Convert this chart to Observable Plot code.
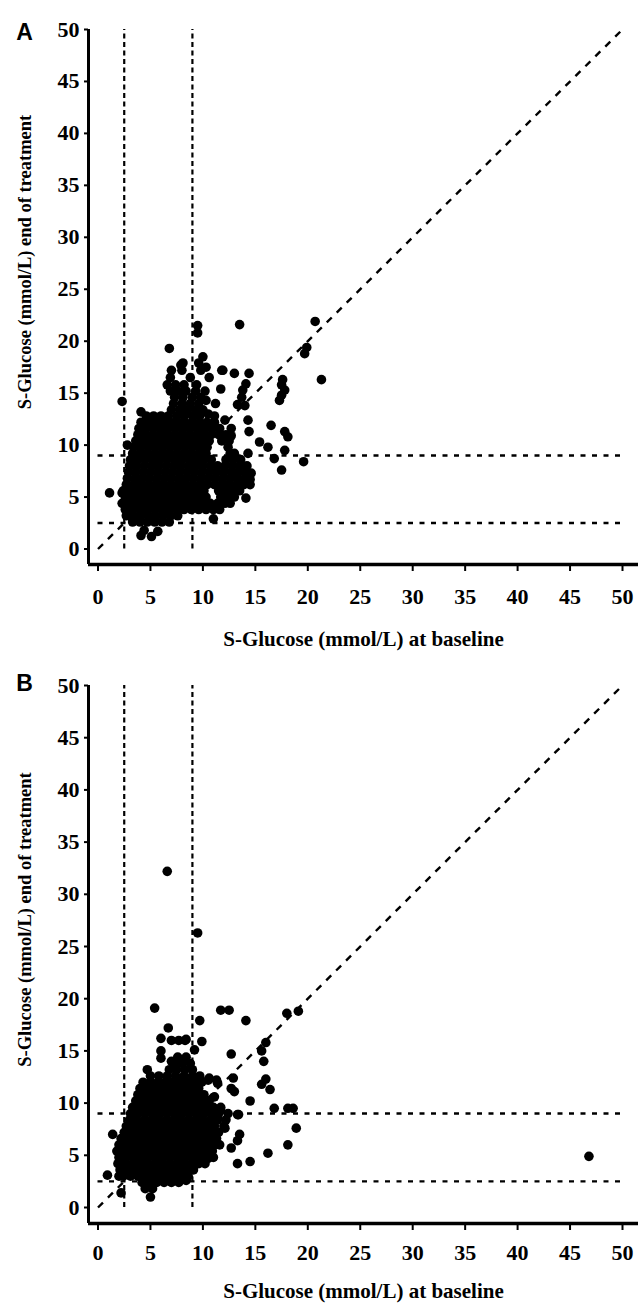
<!DOCTYPE html>
<html>
<head>
<meta charset="utf-8">
<script src="https://cdn.jsdelivr.net/npm/d3@7"></script>
<script src="https://cdn.jsdelivr.net/npm/@observablehq/plot@0.6"></script>
<style>
  body { margin: 0; background: #fff; }
  svg { display: block; }
</style>
</head>
<body>
<div id="chart"></div>
<script>
// ---- tick values and labels ----
const tickValues = [0, 5, 10, 15, 20, 25, 30, 35, 40, 45, 50];
const axisDomain = [0, 50];
const xTitle = "S-Glucose (mmol/L) at baseline";
const yTitle = "S-Glucose (mmol/L) end of treatment";
const panelLetters = ["A", "B"];

// ---- reference limits (dashed lines) ----
const lowLimit = 2.5;
const highLimit = 9;
const refLimits = [lowLimit, highLimit];

// ---- Panel A: [baseline, end of treatment] (mmol/L) ----
const panelA = [
  // isolated points
  [1.1,5.4],[2.3,5.4],[2.3,14.2],[2.8,10.0],[4.1,13.2],[6.8,19.3],[9.5,20.8],[9.5,21.5],[13.5,21.6],[20.7,21.9],
  [19.9,19.4],[19.7,18.8],[21.3,16.3],[11.9,17.2],[13.0,16.9],[14.4,16.9],[14.1,15.9],[13.8,15.3],[11.7,15.4],[17.5,15.8],
  [17.6,16.3],[17.8,15.3],[17.3,14.3],[17.5,14.8],[13.7,14.6],[13.3,13.9],[14.0,13.8],[12.1,12.4],[12.7,11.6],[14.3,12.4],
  [14.4,11.3],[16.5,11.9],[17.8,11.3],[18.1,10.8],[15.4,10.3],[16.2,9.8],[17.8,9.5],[16.8,8.7],[17.5,7.6],[19.6,8.4],
  [14.1,4.9],[11.0,2.9],[14.6,7.3],[14.5,6.7],[13.0,9.2],[14.3,9.2],[12.4,9.8],[12.7,10.9],[4.1,1.3],[5.1,1.2],
  [4.4,1.8],[5.7,1.7],[3.3,2.9],[2.8,3.7],[10.0,18.5],[10.3,17.5],[7.9,17.7],[11.8,17.2],[10.3,14.3],[10.5,13.0],
  // dense cluster
  [3.3,2.6],[4.0,2.6],[4.7,2.6],[5.4,2.6],[6.1,2.6],[6.8,2.6],
  [2.7,3.2],[3.4,3.2],[4.1,3.2],[4.8,3.2],[5.5,3.2],[6.2,3.2],[6.9,3.2],[7.6,3.2],
  [2.6,3.8],[3.3,3.8],[4.0,3.8],[4.7,3.8],[5.4,3.8],[6.1,3.8],[6.8,3.8],[7.5,3.8],[8.2,3.8],[8.9,3.8],[9.6,3.8],[10.3,3.8],[11.0,3.8],[11.6,3.8],
  [2.3,4.4],[3.0,4.4],[3.7,4.4],[4.4,4.4],[5.1,4.4],[5.8,4.4],[6.5,4.4],[7.2,4.4],[7.9,4.4],[8.6,4.4],[9.3,4.4],[10.0,4.4],[10.7,4.4],[11.4,4.4],[12.1,4.4],[12.6,4.4],
  [2.6,5.0],[3.3,5.0],[4.0,5.0],[4.7,5.0],[5.4,5.0],[6.1,5.0],[6.8,5.0],[7.5,5.0],[8.2,5.0],[8.9,5.0],[9.6,5.0],[10.3,5.0],[11.7,5.0],[12.4,5.0],[13.0,5.0],
  [2.4,5.6],[3.1,5.6],[3.8,5.6],[4.5,5.6],[5.2,5.6],[5.9,5.6],[6.6,5.6],[7.3,5.6],[8.0,5.6],[8.7,5.6],[9.4,5.6],[10.1,5.6],[11.5,5.6],[12.2,5.6],[12.9,5.6],[13.5,5.6],
  [2.7,6.2],[3.4,6.2],[4.1,6.2],[4.8,6.2],[5.5,6.2],[6.2,6.2],[6.9,6.2],[7.6,6.2],[8.3,6.2],[9.0,6.2],[9.7,6.2],[10.4,6.2],[11.1,6.2],[11.8,6.2],[12.5,6.2],[13.2,6.2],[13.9,6.2],[14.5,6.2],
  [2.8,6.8],[3.5,6.8],[4.2,6.8],[4.9,6.8],[5.6,6.8],[6.3,6.8],[7.0,6.8],[7.7,6.8],[8.4,6.8],[9.1,6.8],[9.8,6.8],[10.5,6.8],[11.2,6.8],[11.9,6.8],[12.6,6.8],[13.3,6.8],[14.0,6.8],
  [2.9,7.4],[3.6,7.4],[4.3,7.4],[5.0,7.4],[5.7,7.4],[6.4,7.4],[7.1,7.4],[7.8,7.4],[8.5,7.4],[9.2,7.4],[9.9,7.4],[10.6,7.4],[11.3,7.4],[12.0,7.4],[12.7,7.4],[13.4,7.4],[14.1,7.4],
  [3.0,8.0],[3.7,8.0],[4.4,8.0],[5.1,8.0],[5.8,8.0],[6.5,8.0],[7.2,8.0],[7.9,8.0],[8.6,8.0],[9.3,8.0],[10.0,8.0],[10.7,8.0],[11.4,8.0],[12.1,8.0],[12.8,8.0],[13.5,8.0],[14.2,8.0],
  [3.1,8.6],[3.8,8.6],[4.5,8.6],[5.2,8.6],[5.9,8.6],[6.6,8.6],[7.3,8.6],[8.0,8.6],[8.7,8.6],[9.4,8.6],[10.1,8.6],[10.8,8.6],[12.2,8.6],[12.9,8.6],[13.6,8.6],
  [3.3,9.2],[4.0,9.2],[4.7,9.2],[5.4,9.2],[6.1,9.2],[6.8,9.2],[7.5,9.2],[8.2,9.2],[8.9,9.2],[9.6,9.2],[10.3,9.2],[12.6,9.2],
  [3.4,9.8],[4.1,9.8],[4.8,9.8],[5.5,9.8],[6.2,9.8],[6.9,9.8],[7.6,9.8],[8.3,9.8],[9.0,9.8],[9.7,9.8],[10.4,9.8],
  [3.6,10.4],[4.3,10.4],[5.0,10.4],[5.7,10.4],[6.4,10.4],[7.1,10.4],[7.8,10.4],[8.5,10.4],[9.2,10.4],[9.9,10.4],[10.6,10.4],[11.8,10.4],[12.5,10.4],
  [3.8,11.0],[4.5,11.0],[5.2,11.0],[5.9,11.0],[6.6,11.0],[7.3,11.0],[8.0,11.0],[8.7,11.0],[9.4,11.0],[10.1,11.0],[10.8,11.0],[11.5,11.0],[12.2,11.0],
  [3.9,11.6],[4.6,11.6],[5.3,11.6],[6.0,11.6],[6.7,11.6],[7.4,11.6],[8.1,11.6],[8.8,11.6],[9.5,11.6],[10.2,11.6],[10.9,11.6],[11.6,11.6],
  [4.1,12.2],[4.8,12.2],[5.5,12.2],[6.2,12.2],[6.9,12.2],[7.6,12.2],[8.3,12.2],[9.0,12.2],[9.7,12.2],[10.4,12.2],[11.1,12.2],
  [4.6,12.8],[5.3,12.8],[6.0,12.8],[6.7,12.8],[7.5,12.8],[8.2,12.8],[9.0,12.8],[9.7,12.8],[11.1,12.8],
  [7.0,13.4],[7.8,13.4],[8.5,13.4],[9.3,13.4],[10.0,13.4],
  [7.2,14.0],[8.0,14.0],[8.8,14.0],[9.6,14.0],[11.2,14.0],
  [7.3,14.6],[8.1,14.6],[9.0,14.6],[9.8,14.6],
  [6.9,15.2],[7.6,15.2],[8.4,15.2],[9.3,15.2],[10.2,15.2],
  [6.6,15.8],[7.4,15.8],[8.2,15.8],[9.4,15.8],
  [6.9,16.5],[8.8,16.5],[10.6,16.5],
  [7.0,17.2],[8.0,17.2],[9.8,17.2],
  [8.1,17.9],[9.6,17.9]
];

// ---- Panel B: [baseline, end of treatment] (mmol/L) ----
const panelB = [
  // isolated points
  [5.4,19.1],[6.6,32.2],[9.5,26.3],[46.8,4.9],[6.7,17.2],[9.7,17.9],[7.0,16.0],[7.7,16.0],[8.3,16.0],[6.0,16.2],
  [6.0,15.0],[6.0,14.3],[7.0,14.0],[8.4,16.1],[9.9,15.9],[9.2,15.1],[4.7,13.2],[1.4,7.0],[0.9,3.1],[2.0,3.0],
  [2.2,1.4],[5.0,1.0],[8.2,2.8],[7.1,2.6],[9.2,4.1],[10.5,4.7],[11.7,18.9],[12.5,18.9],[14.1,17.9],[18.0,18.6],
  [19.1,18.8],[12.7,14.7],[16.0,15.8],[15.6,15.0],[15.8,14.0],[15.6,11.8],[16.4,11.3],[16.0,12.3],[14.5,10.2],[16.8,9.5],
  [18.1,9.5],[18.6,9.5],[13.3,8.9],[11.7,9.3],[18.9,7.6],[18.1,6.0],[16.2,5.2],[14.5,4.4],[13.3,4.2],[13.5,7.0],
  [13.3,6.4],[12.7,5.7],[12.9,12.4],[10.5,12.2],[11.4,11.9],[12.7,11.4],[11.1,10.6],[12.1,7.6],[11.4,8.6],[10.9,7.0],
  [8.4,2.6],[10.6,12.4],[11.3,12.2],[13.0,11.1],[13.4,8.9],
  // dense cluster
  [4.5,1.8],[5.2,1.8],
  [4.2,2.4],[4.9,2.4],[5.6,2.4],[6.3,2.4],[7.0,2.4],[7.7,2.4],
  [2.4,3.0],[3.1,3.0],[3.8,3.0],[4.5,3.0],[5.2,3.0],[5.9,3.0],[6.6,3.0],[7.3,3.0],[8.0,3.0],[8.6,3.0],
  [2.1,3.6],[2.8,3.6],[3.5,3.6],[4.2,3.6],[4.9,3.6],[5.6,3.6],[6.3,3.6],[7.0,3.6],[7.7,3.6],[8.4,3.6],[9.1,3.6],
  [1.9,4.2],[2.6,4.2],[3.3,4.2],[4.0,4.2],[4.7,4.2],[5.4,4.2],[6.1,4.2],[6.8,4.2],[7.5,4.2],[8.2,4.2],[8.9,4.2],[9.6,4.2],[10.2,4.2],
  [2.0,4.8],[2.7,4.8],[3.4,4.8],[4.1,4.8],[4.8,4.8],[5.5,4.8],[6.2,4.8],[6.9,4.8],[7.6,4.8],[8.3,4.8],[9.0,4.8],[9.7,4.8],[10.4,4.8],[11.0,4.8],
  [1.8,5.4],[2.5,5.4],[3.2,5.4],[3.9,5.4],[4.6,5.4],[5.3,5.4],[6.0,5.4],[6.7,5.4],[7.4,5.4],[8.1,5.4],[8.8,5.4],[9.5,5.4],[10.2,5.4],[10.9,5.4],
  [2.0,6.0],[2.7,6.0],[3.4,6.0],[4.1,6.0],[4.8,6.0],[5.5,6.0],[6.2,6.0],[6.9,6.0],[7.6,6.0],[8.3,6.0],[9.0,6.0],[9.7,6.0],[10.4,6.0],[11.1,6.0],[11.6,6.0],
  [2.2,6.6],[2.9,6.6],[3.6,6.6],[4.3,6.6],[5.0,6.6],[5.7,6.6],[6.4,6.6],[7.1,6.6],[7.8,6.6],[8.5,6.6],[9.2,6.6],[9.9,6.6],[10.6,6.6],[11.3,6.6],
  [2.5,7.2],[3.2,7.2],[3.9,7.2],[4.6,7.2],[5.3,7.2],[6.0,7.2],[6.7,7.2],[7.4,7.2],[8.1,7.2],[8.8,7.2],[9.5,7.2],[10.2,7.2],[10.9,7.2],[11.5,7.2],
  [2.7,7.8],[3.4,7.8],[4.1,7.8],[4.8,7.8],[5.5,7.8],[6.2,7.8],[6.9,7.8],[7.6,7.8],[8.3,7.8],[9.0,7.8],[9.7,7.8],[10.4,7.8],[11.1,7.8],[12.0,7.8],
  [3.0,8.4],[3.7,8.4],[4.4,8.4],[5.1,8.4],[5.8,8.4],[6.5,8.4],[7.2,8.4],[7.9,8.4],[8.6,8.4],[9.3,8.4],[10.0,8.4],[10.7,8.4],[11.4,8.4],[12.2,8.4],
  [3.1,9.0],[3.8,9.0],[4.5,9.0],[5.2,9.0],[5.9,9.0],[6.6,9.0],[7.3,9.0],[8.0,9.0],[8.7,9.0],[9.4,9.0],[10.1,9.0],[10.8,9.0],[11.5,9.0],[12.4,9.0],
  [3.3,9.6],[4.0,9.6],[4.7,9.6],[5.4,9.6],[6.1,9.6],[6.8,9.6],[7.5,9.6],[8.2,9.6],[8.9,9.6],[9.6,9.6],[10.3,9.6],[11.0,9.6],[11.7,9.6],
  [3.6,10.2],[4.3,10.2],[5.0,10.2],[5.7,10.2],[6.4,10.2],[7.1,10.2],[7.8,10.2],[8.5,10.2],[9.2,10.2],[9.9,10.2],[10.6,10.2],
  [3.8,10.8],[4.5,10.8],[5.2,10.8],[5.9,10.8],[6.6,10.8],[7.3,10.8],[8.0,10.8],[8.7,10.8],[9.4,10.8],[10.1,10.8],
  [4.0,11.4],[4.7,11.4],[5.4,11.4],[6.1,11.4],[6.8,11.4],[7.5,11.4],[8.2,11.4],[8.9,11.4],[9.6,11.4],
  [4.3,12.0],[5.0,12.0],[5.7,12.0],[6.4,12.0],[7.1,12.0],[7.8,12.0],[8.5,12.0],[9.2,12.0],[9.9,12.0],
  [5.0,12.6],[5.8,12.6],[6.6,12.6],[7.4,12.6],[8.2,12.6],[9.0,12.6],[9.7,12.6],
  [6.8,13.2],[7.5,13.2],[8.3,13.2],[9.0,13.2],
  [7.3,13.8],[8.0,13.8],[8.8,13.8],
  [7.6,14.4],[8.4,14.4]
];

const panels = [
  {letter: panelLetters[0], data: panelA, height: 656, marginBottom: 92, insetBottom: 15.5, tickPadding: 17, letterDy: 3, titleDy: 75},
  {letter: panelLetters[1], data: panelB, height: 653, marginBottom: 86, insetBottom: 16, tickPadding: 14, letterDy: -2, titleDy: 68}
];

const serif = "'Liberation Serif', 'Times New Roman', serif";

function drawPanel(p) {
  return Plot.plot({
    width: 638,
    height: p.height,
    marginTop: 29,
    marginLeft: 88,
    marginRight: 0,
    marginBottom: p.marginBottom,
    x: {domain: axisDomain, insetLeft: 9.5, insetRight: 16},
    y: {domain: axisDomain, insetBottom: p.insetBottom},
    style: {fontFamily: serif, fontSize: "22px", fontWeight: "bold", color: "black", background: "white"},
    marks: [
      // dashed reference lines
      Plot.ruleX(refLimits, {x: d => d, y1: axisDomain[0], y2: axisDomain[1], stroke: "black", strokeWidth: 2.2, strokeDasharray: "5,3.5"}),
      Plot.ruleY(refLimits, {y: d => d, x1: axisDomain[0], x2: axisDomain[1], stroke: "black", strokeWidth: 2.4, strokeDasharray: "5,6.5"}),
      Plot.link([axisDomain], {x1: d => d[0], y1: d => d[0], x2: d => d[1], y2: d => d[1], stroke: "black", strokeWidth: 2.4, strokeDasharray: "7,7"}),
      // data
      Plot.dot(p.data, {x: d => d[0], y: d => d[1], r: 4.8, fill: "black"}),
      // axis lines (detached from the data area)
      Plot.ruleX([axisDomain[0]], {dx: -9.5, stroke: "black", strokeWidth: 3}),
      Plot.ruleY([axisDomain[0]], {dy: p.insetBottom, stroke: "black", strokeWidth: 3.5}),
      Plot.axisX({ticks: tickValues, tickSize: 7, tickPadding: p.tickPadding, strokeWidth: 2, label: null, tickFormat: d => String(d)}),
      Plot.axisY({ticks: tickValues, tickSize: 4, tickPadding: 5, strokeWidth: 2, label: null, tickFormat: d => String(d)}),
      // titles
      Plot.text([xTitle], {text: d => d, frameAnchor: "bottom", dy: p.titleDy, lineAnchor: "middle", fontSize: 21, fontWeight: "bold", fontFamily: serif}),
      Plot.text([yTitle], {text: d => d, frameAnchor: "left", rotate: -90, dx: -63, dy: -35, lineAnchor: "middle", textAnchor: "middle", fontSize: 18.5, fontWeight: "bold", fontFamily: serif}),
      Plot.text([p.letter], {text: d => d, frameAnchor: "top-left", dx: -64, dy: p.letterDy, textAnchor: "middle", lineAnchor: "middle", fontSize: 23, fontWeight: "bold", fontFamily: "'Liberation Sans', Arial, sans-serif"})
    ]
  });
}

const container = document.getElementById("chart");
for (const p of panels) container.appendChild(drawPanel(p));
</script>
</body>
</html>
